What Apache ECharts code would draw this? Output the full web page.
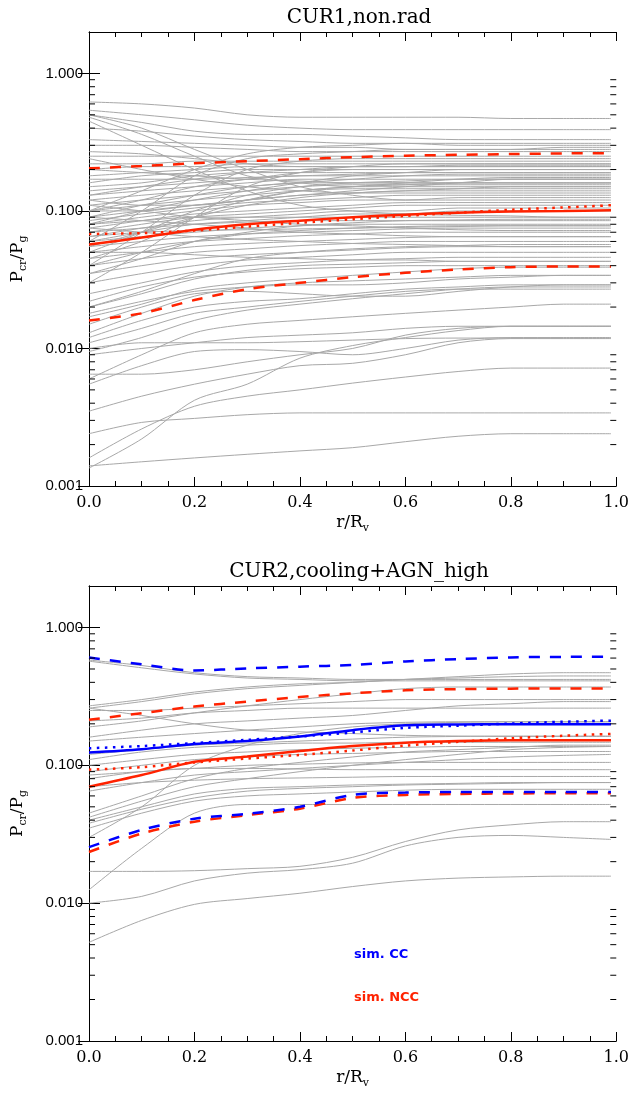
<!DOCTYPE html>
<html><head><meta charset="utf-8">
<script src="https://cdn.jsdelivr.net/npm/echarts@6/dist/echarts.min.js"></script>
<style>html,body{margin:0;padding:0;background:#fff}#c{width:632px;height:1093px}</style>
</head><body><div id="c"></div>
<script>
// radial sample points r/Rv
const xs = [0, 0.1, 0.2, 0.3, 0.4, 0.5, 0.6, 0.7, 0.8, 0.9, 0.99];
const titles = ['CUR1,non.rad', 'CUR2,cooling+AGN_high'];
const legendLabels = ['sim. CC', 'sim. NCC'];
const yMajorTicks = [0.001, 0.01, 0.1, 1];
const yMinorTicks = [0.002,0.003,0.004,0.005,0.006,0.007,0.008,0.009,
  0.02,0.03,0.04,0.05,0.06,0.07,0.08,0.09,0.2,0.3,0.4,0.5,0.6,0.7,0.8,0.9];

// ---- top panel (CUR1, non.rad): individual clusters
const grayTop = [
  [0.62,0.60,0.56,0.50,0.48,0.48,0.48,0.48,0.47,0.47,0.47],
  [0.54,0.50,0.46,0.42,0.40,0.39,0.39,0.39,0.39,0.39,0.39],
  [0.50,0.44,0.38,0.36,0.36,0.35,0.34,0.33,0.33,0.33,0.33],
  [0.50,0.40,0.28,0.20,0.15,0.13,0.12,0.12,0.12,0.12,0.12],
  [0.48,0.36,0.25,0.18,0.16,0.15,0.15,0.15,0.15,0.15,0.15],
  [0.45,0.30,0.20,0.14,0.11,0.10,0.095,0.093,0.092,0.09,0.09],
  [0.40,0.38,0.35,0.33,0.32,0.31,0.31,0.30,0.30,0.30,0.30],
  [0.33,0.32,0.31,0.30,0.29,0.29,0.28,0.28,0.28,0.28,0.28],
  [0.30,0.30,0.29,0.28,0.27,0.27,0.27,0.27,0.27,0.27,0.27],
  [0.27,0.26,0.24,0.22,0.21,0.21,0.21,0.21,0.21,0.21,0.21],
  [0.25,0.25,0.25,0.25,0.25,0.25,0.25,0.25,0.25,0.25,0.25],
  [0.10,0.14,0.20,0.26,0.29,0.30,0.31,0.31,0.31,0.31,0.31],
  [0.06,0.10,0.18,0.24,0.26,0.27,0.28,0.28,0.28,0.29,0.29],
  [0.04,0.07,0.13,0.20,0.23,0.24,0.24,0.24,0.24,0.24,0.24],
  [0.03,0.05,0.09,0.15,0.19,0.21,0.22,0.22,0.22,0.22,0.22],
  [0.22,0.22,0.23,0.23,0.23,0.23,0.23,0.23,0.23,0.23,0.23],
  [0.20,0.21,0.21,0.22,0.22,0.22,0.22,0.22,0.22,0.22,0.22],
  [0.18,0.19,0.20,0.21,0.21,0.21,0.21,0.21,0.21,0.21,0.21],
  [0.16,0.18,0.19,0.20,0.20,0.20,0.20,0.20,0.20,0.20,0.20],
  [0.15,0.16,0.18,0.19,0.19,0.19,0.19,0.19,0.19,0.19,0.19],
  [0.14,0.15,0.16,0.17,0.18,0.18,0.18,0.18,0.18,0.18,0.18],
  [0.13,0.14,0.15,0.16,0.17,0.17,0.17,0.17,0.17,0.17,0.17],
  [0.12,0.13,0.14,0.15,0.16,0.16,0.16,0.16,0.16,0.16,0.16],
  [0.11,0.12,0.13,0.14,0.15,0.155,0.155,0.155,0.155,0.155,0.155],
  [0.10,0.11,0.12,0.13,0.14,0.145,0.145,0.145,0.145,0.145,0.145],
  [0.09,0.10,0.11,0.12,0.13,0.135,0.14,0.14,0.14,0.14,0.14],
  [0.085,0.095,0.105,0.115,0.12,0.125,0.13,0.13,0.13,0.13,0.13],
  [0.08,0.09,0.10,0.11,0.115,0.12,0.12,0.125,0.125,0.125,0.125],
  [0.075,0.085,0.095,0.10,0.105,0.11,0.115,0.115,0.115,0.115,0.115],
  [0.07,0.08,0.09,0.095,0.10,0.105,0.11,0.11,0.11,0.11,0.11],
  [0.065,0.075,0.085,0.09,0.095,0.10,0.10,0.105,0.105,0.105,0.105],
  [0.06,0.07,0.08,0.085,0.09,0.095,0.095,0.10,0.10,0.10,0.10],
  [0.17,0.17,0.17,0.175,0.18,0.185,0.19,0.19,0.19,0.19,0.19],
  [0.12,0.11,0.11,0.12,0.13,0.14,0.15,0.16,0.17,0.17,0.17],
  [0.10,0.10,0.11,0.12,0.14,0.15,0.16,0.17,0.175,0.175,0.175],
  [0.05,0.07,0.10,0.13,0.15,0.16,0.165,0.17,0.17,0.17,0.17],
  [0.045,0.06,0.09,0.12,0.14,0.15,0.155,0.16,0.16,0.16,0.16],
  [0.055,0.07,0.09,0.11,0.125,0.135,0.14,0.145,0.15,0.15,0.15],
  [0.09,0.11,0.13,0.15,0.16,0.17,0.18,0.185,0.185,0.185,0.185],
  [0.08,0.10,0.12,0.14,0.16,0.18,0.19,0.20,0.20,0.20,0.20],
  [0.13,0.15,0.17,0.19,0.20,0.21,0.21,0.215,0.215,0.215,0.215],
  [0.10,0.12,0.15,0.17,0.19,0.20,0.20,0.20,0.20,0.20,0.20],
  [0.20,0.19,0.18,0.17,0.165,0.16,0.16,0.16,0.16,0.16,0.16],
  [0.24,0.20,0.17,0.15,0.14,0.135,0.135,0.135,0.135,0.135,0.135],
  [0.08,0.085,0.09,0.09,0.09,0.09,0.09,0.09,0.09,0.09,0.09],
  [0.07,0.075,0.08,0.083,0.085,0.085,0.085,0.085,0.085,0.085,0.085],
  [0.06,0.065,0.07,0.075,0.078,0.08,0.08,0.08,0.08,0.08,0.08],
  [0.055,0.06,0.065,0.068,0.07,0.072,0.074,0.075,0.075,0.075,0.075],
  [0.05,0.055,0.06,0.063,0.066,0.068,0.07,0.07,0.07,0.07,0.07],
  [0.045,0.05,0.055,0.058,0.06,0.062,0.064,0.065,0.065,0.065,0.065],
  [0.04,0.045,0.05,0.053,0.056,0.058,0.06,0.06,0.06,0.06,0.06],
  [0.035,0.04,0.045,0.048,0.05,0.052,0.054,0.055,0.055,0.055,0.055],
  [0.03,0.035,0.04,0.044,0.046,0.048,0.05,0.05,0.05,0.05,0.05],
  [0.025,0.03,0.036,0.04,0.042,0.044,0.045,0.046,0.046,0.046,0.046],
  [0.11,0.10,0.09,0.085,0.08,0.078,0.075,0.073,0.072,0.072,0.072],
  [0.09,0.085,0.08,0.075,0.07,0.068,0.066,0.065,0.065,0.065,0.065],
  [0.02,0.026,0.035,0.045,0.05,0.053,0.055,0.056,0.057,0.057,0.057],
  [0.035,0.045,0.06,0.07,0.078,0.082,0.085,0.086,0.087,0.087,0.087],
  [0.04,0.05,0.06,0.068,0.072,0.075,0.077,0.078,0.078,0.078,0.078],
  [0.065,0.07,0.072,0.073,0.074,0.075,0.076,0.077,0.078,0.078,0.078],
  [0.075,0.07,0.065,0.062,0.06,0.058,0.057,0.056,0.055,0.055,0.055],
  [0.05,0.05,0.048,0.046,0.045,0.044,0.044,0.043,0.043,0.043,0.043],
  [0.00135,0.0022,0.0042,0.0055,0.0085,0.0105,0.012,0.0135,0.0145,0.0145,0.0145],
  [0.0014,0.0015,0.0016,0.0017,0.0018,0.0019,0.0021,0.0023,0.0024,0.0024,0.0024],
  [0.0024,0.0029,0.0031,0.0033,0.0034,0.0034,0.0034,0.0034,0.0034,0.0034,0.0034],
  [0.0016,0.0026,0.0038,0.0045,0.0050,0.0056,0.0062,0.0068,0.0072,0.0072,0.0072],
  [0.0035,0.0045,0.0055,0.0065,0.0075,0.0078,0.0090,0.011,0.0118,0.0118,0.0118],
  [0.0055,0.0075,0.0095,0.0098,0.0095,0.0090,0.0100,0.0115,0.0120,0.0120,0.0120],
  [0.006,0.009,0.013,0.015,0.016,0.017,0.018,0.019,0.020,0.021,0.021],
  [0.0065,0.0065,0.0070,0.0080,0.0090,0.0100,0.0125,0.0140,0.0145,0.0145,0.0145],
  [0.009,0.010,0.011,0.012,0.0125,0.013,0.014,0.0145,0.0145,0.0145,0.0145],
  [0.010,0.011,0.011,0.011,0.0112,0.0115,0.0118,0.0119,0.0119,0.0119,0.0119],
  [0.011,0.014,0.018,0.020,0.022,0.024,0.026,0.027,0.027,0.027,0.027],
  [0.012,0.016,0.020,0.022,0.023,0.025,0.027,0.028,0.029,0.029,0.029],
  [0.013,0.018,0.024,0.028,0.030,0.031,0.032,0.033,0.034,0.034,0.034],
  [0.015,0.020,0.025,0.026,0.025,0.024,0.024,0.026,0.028,0.029,0.029],
  [0.017,0.021,0.027,0.030,0.032,0.034,0.036,0.038,0.039,0.039,0.039],
  [0.018,0.022,0.026,0.028,0.029,0.029,0.030,0.032,0.033,0.034,0.034],
  [0.020,0.025,0.032,0.037,0.040,0.041,0.042,0.043,0.043,0.043,0.043],
  [0.022,0.028,0.033,0.036,0.038,0.039,0.040,0.040,0.040,0.040,0.040],
  [0.0095,0.012,0.016,0.019,0.021,0.023,0.025,0.027,0.028,0.028,0.028]
];
const topNccMedian = [0.057,0.064,0.073,0.080,0.085,0.090,0.094,0.097,0.099,0.100,0.101];
const topNccMean   = [0.068,0.069,0.072,0.077,0.082,0.087,0.092,0.097,0.102,0.106,0.110];
const topNccUpper  = [0.204,0.212,0.222,0.230,0.238,0.246,0.252,0.256,0.259,0.262,0.263];
const topNccLower  = [0.0160,0.0180,0.0225,0.0270,0.0300,0.0330,0.0355,0.0375,0.0390,0.0395,0.0395];

// ---- bottom panel (CUR2, cooling+AGN_high)
const grayBottom = [
  [0.58,0.53,0.47,0.44,0.43,0.42,0.42,0.42,0.42,0.42,0.42],
  [0.57,0.51,0.46,0.43,0.42,0.41,0.41,0.41,0.41,0.41,0.41],
  [0.27,0.30,0.34,0.37,0.39,0.40,0.42,0.43,0.44,0.445,0.445],
  [0.26,0.29,0.33,0.36,0.38,0.40,0.42,0.44,0.46,0.47,0.47],
  [0.25,0.25,0.26,0.27,0.28,0.29,0.30,0.30,0.30,0.30,0.30],
  [0.26,0.23,0.20,0.18,0.175,0.17,0.165,0.163,0.162,0.162,0.162],
  [0.21,0.22,0.24,0.25,0.26,0.26,0.26,0.26,0.26,0.26,0.26],
  [0.19,0.21,0.24,0.27,0.30,0.33,0.36,0.37,0.37,0.37,0.37],
  [0.16,0.18,0.20,0.21,0.22,0.23,0.25,0.27,0.28,0.29,0.29],
  [0.15,0.16,0.17,0.18,0.19,0.20,0.205,0.207,0.207,0.207,0.207],
  [0.11,0.125,0.135,0.14,0.145,0.145,0.147,0.147,0.147,0.147,0.147],
  [0.10,0.11,0.12,0.125,0.13,0.133,0.135,0.137,0.137,0.137,0.137],
  [0.09,0.10,0.11,0.115,0.12,0.122,0.124,0.126,0.126,0.126,0.126],
  [0.08,0.09,0.095,0.10,0.102,0.104,0.105,0.105,0.105,0.105,0.105],
  [0.085,0.09,0.095,0.095,0.094,0.093,0.093,0.093,0.093,0.093,0.093],
  [0.07,0.075,0.078,0.08,0.081,0.082,0.083,0.083,0.083,0.083,0.083],
  [0.030,0.05,0.10,0.14,0.17,0.19,0.20,0.205,0.207,0.207,0.207],
  [0.042,0.055,0.07,0.08,0.09,0.10,0.11,0.12,0.13,0.135,0.137],
  [0.045,0.06,0.08,0.095,0.105,0.115,0.125,0.13,0.135,0.14,0.14],
  [0.04,0.05,0.062,0.068,0.07,0.072,0.073,0.074,0.075,0.075,0.075],
  [0.038,0.048,0.058,0.065,0.068,0.070,0.072,0.073,0.074,0.075,0.075],
  [0.0125,0.025,0.045,0.052,0.052,0.052,0.052,0.052,0.052,0.052,0.052],
  [0.017,0.017,0.0172,0.0178,0.0185,0.0215,0.028,0.034,0.037,0.039,0.039],
  [0.010,0.0112,0.0145,0.0165,0.0175,0.0195,0.026,0.030,0.031,0.030,0.029],
  [0.0052,0.0075,0.0098,0.0108,0.0118,0.0132,0.0145,0.0152,0.0155,0.0157,0.0157],
  [0.035,0.045,0.055,0.06,0.062,0.064,0.066,0.067,0.067,0.067,0.067],
  [0.065,0.075,0.085,0.09,0.095,0.10,0.105,0.11,0.115,0.118,0.12],
  [0.12,0.13,0.14,0.145,0.15,0.155,0.16,0.162,0.163,0.163,0.163]
];
const botCcMedian  = [0.124,0.131,0.143,0.150,0.162,0.180,0.195,0.198,0.199,0.199,0.199];
const botCcMean    = [0.133,0.138,0.145,0.153,0.162,0.173,0.187,0.194,0.201,0.207,0.211];
const botCcUpper   = [0.605,0.540,0.488,0.505,0.520,0.535,0.567,0.590,0.607,0.612,0.613];
const botCcLower   = [0.0255,0.034,0.041,0.0445,0.050,0.061,0.0635,0.064,0.064,0.064,0.064];
const botNccMedian = [0.070,0.085,0.106,0.116,0.127,0.138,0.146,0.150,0.152,0.152,0.152];
const botNccMean   = [0.093,0.097,0.105,0.112,0.119,0.128,0.139,0.148,0.157,0.164,0.169];
const botNccUpper  = [0.214,0.239,0.267,0.290,0.313,0.333,0.350,0.357,0.360,0.361,0.361];
const botNccLower  = [0.0235,0.032,0.039,0.0435,0.0485,0.058,0.061,0.062,0.0625,0.0627,0.0628];

const RED = '#ff2200', BLUE = '#0000ff', GRAY = '#a8a8a8';
const SERIF = '"DejaVu Serif", "Liberation Serif", serif';
const SANS = '"Liberation Sans", Arial, sans-serif';

const grids = [
  {left: 89, right: 13, top: 32, height: 454},
  {left: 89, right: 13, top: 586, height: 455}
];
const nameRich = {
  b: {fontFamily: SERIF, fontSize: 17, color: '#000', lineHeight: 22},
  s: {fontFamily: SERIF, fontSize: 11, color: '#000', lineHeight: 11, verticalAlign: 'bottom'}
};
const xAxes = [], yAxes = [];
grids.forEach((g, gi) => {
  xAxes.push({gridIndex: gi, type: 'value', min: 0, max: 1, interval: 0.2, position: 'bottom',
    name: '{b|r/R}{s|v}', nameLocation: 'middle', nameGap: 26, nameTextStyle: {rich: nameRich},
    axisLine: {lineStyle: {color: '#000', width: 1}},
    axisTick: {inside: true, length: 9, lineStyle: {color: '#000'}},
    minorTick: {show: true, splitNumber: 4, length: 5, lineStyle: {color: '#000'}},
    splitLine: {show: false}, minorSplitLine: {show: false},
    axisLabel: {fontFamily: SERIF, fontSize: 16, color: '#000', margin: 9, formatter: v => v.toFixed(1)}});
  xAxes.push({gridIndex: gi, type: 'value', min: 0, max: 1, interval: 0.2, position: 'top',
    axisLine: {lineStyle: {color: '#000', width: 1}},
    axisTick: {inside: true, length: 9, lineStyle: {color: '#000'}},
    minorTick: {show: true, splitNumber: 4, length: 5, lineStyle: {color: '#000'}},
    splitLine: {show: false}, axisLabel: {show: false}});
  yAxes.push({gridIndex: gi, type: 'log', logBase: 10, min: 0.001, max: 2, position: 'left',
    name: '{b|P}{s|cr}{b|/P}{s|g}', nameLocation: 'middle', nameGap: 60, nameRotate: 90,
    nameTextStyle: {rich: nameRich},
    axisLine: {show: true, lineStyle: {color: '#000', width: 1}},
    axisTick: {show: true, inside: true, length: 11, customValues: yMajorTicks, lineStyle: {color: '#000'}},
    splitLine: {show: false},
    axisLabel: {fontFamily: SANS, fontSize: 15, color: '#000', margin: 6, customValues: yMajorTicks,
      formatter: v => (Number(v) > 1.5 ? '' : Number(v).toFixed(3))}});
  yAxes.push({gridIndex: gi, type: 'log', logBase: 10, min: 0.001, max: 2, position: 'right',
    axisLine: {show: true, lineStyle: {color: '#000', width: 1}},
    axisTick: {show: true, inside: true, length: 11, customValues: yMajorTicks, lineStyle: {color: '#000'}},
    splitLine: {show: false}, axisLabel: {show: false}});
});

const series = [];
function addLine(gi, vals, color, width, type, z) {
  series.push({type: 'line', xAxisIndex: gi * 2, yAxisIndex: gi * 2,
    data: xs.map((x, i) => [x, vals[i]]), symbol: 'none', smooth: 0.3, silent: true, z: z,
    lineStyle: {color: color, width: width, type: type}});
}
grayTop.forEach(v => addLine(0, v, GRAY, 1, 'solid', 2));
grayBottom.forEach(v => addLine(1, v, GRAY, 1, 'solid', 2));
const DASH = [11, 10], DOT = [2.5, 5.5];
addLine(0, topNccUpper, RED, 2.5, DASH, 4);
addLine(0, topNccLower, RED, 2.5, DASH, 4);
addLine(0, topNccMean, RED, 2.5, DOT, 4);
addLine(0, topNccMedian, RED, 2.5, 'solid', 4);
addLine(1, botNccUpper, RED, 2.5, DASH, 4);
addLine(1, botNccLower, RED, 2.5, DASH, 4);
addLine(1, botNccMean, RED, 2.5, DOT, 4);
addLine(1, botNccMedian, RED, 2.5, 'solid', 4);
addLine(1, botCcUpper, BLUE, 2.5, DASH, 5);
addLine(1, botCcLower, BLUE, 2.5, DASH, 5);
addLine(1, botCcMean, BLUE, 2.5, DOT, 5);
addLine(1, botCcMedian, BLUE, 2.5, 'solid', 5);

// minor log ticks on left and right axes
[0, 1].forEach(gi => {
  series.push({type: 'custom', xAxisIndex: gi * 2, yAxisIndex: gi * 2, silent: true, z: 6,
    data: yMinorTicks.map(v => [0, v]),
    renderItem: (params, api) => {
      const v = api.value(1);
      const pl = api.coord([0, v]), pr = api.coord([1, v]);
      return {type: 'group', children: [
        {type: 'line', shape: {x1: pl[0], y1: pl[1], x2: pl[0] + 6, y2: pl[1]}, style: {stroke: '#000', lineWidth: 1}},
        {type: 'line', shape: {x1: pr[0] - 6, y1: pr[1], x2: pr[0], y2: pr[1]}, style: {stroke: '#000', lineWidth: 1}}
      ]};
    }});
});

const chart = echarts.init(document.getElementById('c'), null, {renderer: 'canvas'});
chart.setOption({
  animation: false,
  backgroundColor: '#fff',
  title: [
    {text: titles[0], left: 354, top: 3, textAlign: 'center', textStyle: {fontFamily: SERIF, fontSize: 20, fontWeight: 'normal', color: '#000'}},
    {text: titles[1], left: 354, top: 557, textAlign: 'center', textStyle: {fontFamily: SERIF, fontSize: 20, fontWeight: 'normal', color: '#000'}}
  ],
  grid: grids,
  xAxis: xAxes,
  yAxis: yAxes,
  series: series,
  graphic: [
    {type: 'text', left: 354, top: 948, style: {text: legendLabels[0], fill: BLUE, font: 'bold 13px "DejaVu Sans", sans-serif'}},
    {type: 'text', left: 354, top: 991, style: {text: legendLabels[1], fill: RED, font: 'bold 13px "DejaVu Sans", sans-serif'}}
  ]
});
</script></body></html>
